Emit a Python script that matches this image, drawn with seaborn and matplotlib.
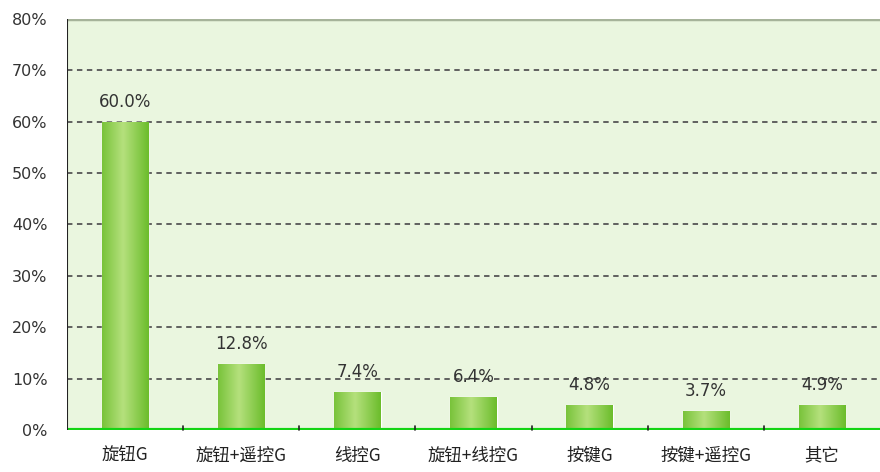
import numpy as np
import pandas as pd
import matplotlib
matplotlib.use("Agg")
import matplotlib.pyplot as plt
import seaborn as sns

categories = ["旋钮G", "旋钮+遥控G", "线控G", "旋钮+线控G", "按键G", "按键+遥控G", "其它"]
shares = [60.0, 12.8, 7.4, 6.4, 4.8, 3.7, 4.9]
y_ticks = [0, 10, 20, 30, 40, 50, 60, 70, 80]

sns.set_theme(style="white")
plt.rcParams["font.family"] = ["Noto Sans CJK SC", "DejaVu Sans"]

df = pd.DataFrame({"category": categories, "share": shares})

fig = plt.figure(figsize=(8.8, 4.72), dpi=100)
ax = fig.add_axes([0.076, 0.089, 0.924, 0.871])
ax.set_facecolor("#eaf6df")

sns.barplot(data=df, x="category", y="share", color="#8ccf4a", width=0.4, ax=ax, zorder=3)

# horizontal gradient on every bar
grad = np.linspace(0, 1, 64)
grad = 1 - np.abs(grad - 0.45) * 2
grad = np.vstack([grad, grad])
cmap = matplotlib.colors.LinearSegmentedColormap.from_list("g", ["#6cbd2c", "#b4e07c"])
for p in ax.patches:
    x0, y0 = p.get_x(), p.get_y()
    w, h = p.get_width(), p.get_height()
    im = ax.imshow(grad, cmap=cmap, aspect="auto", extent=[x0, x0 + w, y0, y0 + h], zorder=4)
    im.set_clip_path(p)
    ax.annotate(f"{h:.1f}%", (x0 + w / 2, h), xytext=(0, 8), textcoords="offset points",
                ha="center", va="bottom", fontsize=12, color="#333333", zorder=5,
                family="DejaVu Sans")

ax.set_xlim(-0.5, len(categories) - 0.5)
ax.set_ylim(0, 80)
ax.set_yticks(y_ticks)
ax.set_yticklabels([f"{t}%" for t in y_ticks], fontsize=11.5, color="#333333",
                   family="DejaVu Sans")
ax.set_xticks(range(len(categories)))
ax.set_xticklabels(categories, fontsize=12.5, color="#222222")
ax.tick_params(axis="x", length=0, pad=12)
ax.tick_params(axis="y", length=0, pad=14)
ax.set_xlabel("")
ax.set_ylabel("")

# dashed grid
for t in y_ticks[1:-1]:
    ax.axhline(t, color="#555555", linestyle=(0, (3, 2.5)), linewidth=1.3, zorder=2)

# small separators between categories
for i in range(len(categories) - 1):
    ax.plot([i + 0.5, i + 0.5], [0, 0.8], color="#222222", linewidth=1.2, zorder=6, clip_on=False)

for s in ["top", "right", "left", "bottom"]:
    ax.spines[s].set_visible(False)
ax.axhline(80, color="#a6b39a", linewidth=2.5, zorder=2)
ax.axvline(-0.5, color="#222222", linewidth=1.5, zorder=6)
ax.axhline(0, color="#14d414", linewidth=3, zorder=5)

fig.savefig("out.png", dpi=100)
